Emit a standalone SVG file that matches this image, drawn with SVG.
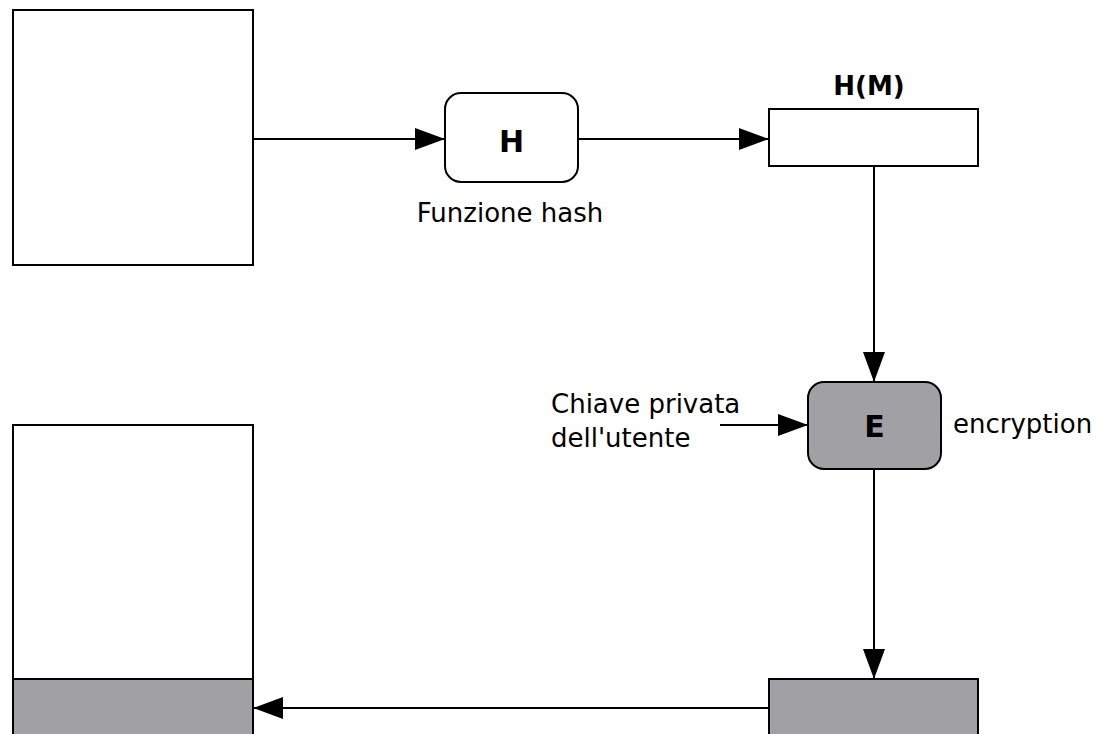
<svg xmlns="http://www.w3.org/2000/svg" width="1099" height="734" viewBox="0 0 1099 734">
<style>
.box{stroke:#000;stroke-width:2;}
.w{fill:#fff;}
.g{fill:#a1a0a4;}
.t{font-family:"DejaVu Sans",Verdana,sans-serif;fill:#000;}
.lbl{font-size:26px;}
.b{font-size:30px;font-weight:bold;}
.c{stroke:#000;stroke-width:2;fill:none;}
</style>
<defs>
<marker id="ah" viewBox="0 0 30 22" refX="30" refY="11" markerWidth="30" markerHeight="22" markerUnits="userSpaceOnUse" orient="auto">
<path d="M0,0 L30,11 L0,22 Z" fill="#000"/>
</marker>
</defs>
<rect width="1099" height="734" fill="#fff"/>
<g id="msg-top"><rect class="box w" x="13" y="10" width="240" height="255"/></g>
<g id="hash"><rect class="box w" x="445" y="93" width="133" height="89" rx="16"/><text class="t b" x="511.5" y="152" text-anchor="middle">H</text><text class="t lbl" x="510" y="222" text-anchor="middle">Funzione hash</text></g>
<g id="hm"><rect class="box w" x="769" y="109" width="209" height="57"/><text class="t" x="869" y="95" font-size="26" font-weight="bold" text-anchor="middle">H(M)</text></g>
<g id="enc"><rect class="box g" x="808" y="382" width="133" height="87" rx="16"/><text class="t b" x="874.5" y="437" text-anchor="middle">E</text><text class="t lbl" x="953" y="433">encryption</text></g>
<g id="key"><text class="t lbl" x="551" y="413">Chiave privata</text><text class="t lbl" x="551" y="447">dell'utente</text></g>
<g id="sig"><rect class="box g" x="769" y="679" width="209" height="60"/></g>
<g id="msg-bottom"><rect class="box w" x="13" y="425" width="240" height="254"/><rect class="box g" x="13" y="679" width="240" height="60"/></g>
<g id="connectors">
<line class="c" x1="253" y1="139" x2="445" y2="139" marker-end="url(#ah)"/>
<line class="c" x1="578" y1="139" x2="769" y2="139" marker-end="url(#ah)"/>
<path class="c" d="M874,166 V382" marker-end="url(#ah)"/>
<line class="c" x1="720" y1="425" x2="808" y2="425" marker-end="url(#ah)"/>
<path class="c" d="M874,469 V679" marker-end="url(#ah)"/>
<line class="c" x1="769" y1="708" x2="253" y2="708" marker-end="url(#ah)"/>
</g>
</svg>
